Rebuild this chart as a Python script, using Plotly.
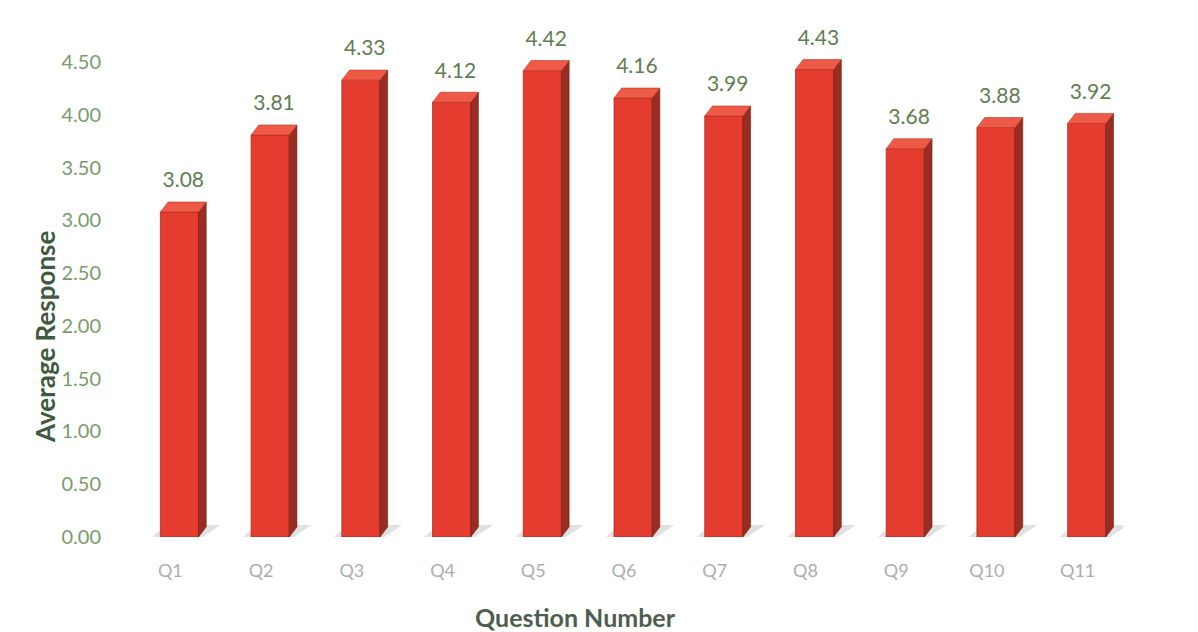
import plotly.graph_objects as go

categories = ["Q1", "Q2", "Q3", "Q4", "Q5", "Q6", "Q7", "Q8", "Q9", "Q10", "Q11"]
values = [3.08, 3.81, 4.33, 4.12, 4.42, 4.16, 3.99, 4.43, 3.68, 3.88, 3.92]
y_ticks = [0, 0.5, 1.0, 1.5, 2.0, 2.5, 3.0, 3.5, 4.0, 4.5]

# style constants (3D look)
SHIFT = 0.1      # front face centre offset from category tick
W = 0.42         # front face width
DX = 0.085       # depth offset in x (data units)
DY = 0.095       # depth offset in y (data units)
LABEL_GAP = 0.09

FIG_W, FIG_H = 1198, 632
L, R, T, B = 125, 75, 20, 95
PW, PH = FIG_W - L - R, FIG_H - T - B

xpos = [i + SHIFT for i in range(len(categories))]

fig = go.Figure()

# front faces
fig.add_trace(go.Bar(
    x=xpos, y=values, width=W,
    marker=dict(color="#e43d30", line=dict(width=0.8, color="#b02a1e")),
    showlegend=False, hoverinfo="y"))

# side and top faces
for x0, v in zip(xpos, values):
    xr = x0 + W / 2
    xl = x0 - W / 2
    fig.add_trace(go.Scatter(
        x=[xr, xr + DX, xr + DX, xr, xr],
        y=[0, DY, v + DY, v, 0],
        fill="toself", mode="lines", line=dict(width=0.6, color="#6e1c14"),
        fillcolor="#9a2c22", hoverinfo="skip", showlegend=False, cliponaxis=False))
    fig.add_trace(go.Scatter(
        x=[xl, xl + DX, xr + DX, xr, xl],
        y=[v, v + DY, v + DY, v, v],
        fill="toself", mode="lines", line=dict(width=0.6, color="#c0301f"),
        fillcolor="#ee5a48", hoverinfo="skip", showlegend=False, cliponaxis=False))

# floor shadows (below the bars)
shapes = []
for x0 in xpos:
    xl = x0 - W / 2
    xr = x0 + W / 2
    path = (f"M {xl - 0.09},0 L {xr + 0.05},0 L {xr + DX + 0.16},{DY * 1.2} "
            f"L {xl + DX - 0.02},{DY * 1.2} Z")
    shapes.append(dict(type="path", path=path, xref="x", yref="y", layer="below",
                       fillcolor="rgba(205,205,205,0.6)", line=dict(width=0)))

# data labels
fig.add_trace(go.Scatter(
    x=[x + DX / 2 for x in xpos], y=[v + DY + LABEL_GAP for v in values],
    mode="text", text=[f"{v:.2f}" for v in values],
    textposition="top center",
    textfont=dict(family="Lato", size=21, color="#5f7d4f"),
    hoverinfo="skip", showlegend=False, cliponaxis=False))

fig.update_layout(
    width=FIG_W, height=FIG_H,
    margin=dict(l=L, r=R, t=T, b=B),
    paper_bgcolor="white", plot_bgcolor="white",
    font=dict(family="Lato"),
    shapes=shapes,
    xaxis=dict(
        range=[-0.5, len(categories) - 0.5], automargin=False,
        tickmode="array", tickvals=list(range(len(categories))), ticktext=categories,
        showgrid=False, zeroline=False, showline=False,
        ticks="outside", ticklen=17, tickcolor="rgba(0,0,0,0)",
        tickfont=dict(family="Lato", size=18, color="#adadad"),
    ),
    yaxis=dict(
        range=[0, 4.9], automargin=False,
        tickmode="array", tickvals=y_ticks, ticktext=[f"{t:.2f}" for t in y_ticks],
        showgrid=False, zeroline=False, showline=False,
        ticks="outside", ticklen=19, tickcolor="rgba(0,0,0,0)",
        tickfont=dict(family="Lato", size=20, color="#7a9a6a"),
    ),
    annotations=[
        dict(text="<b>Question Number</b>", xref="paper", yref="paper",
             x=(575 - L) / PW, y=-(617 - (T + PH)) / PH, xanchor="center", yanchor="middle",
             showarrow=False, font=dict(family="Lato", size=25, color="#4e5e4e")),
        dict(text="<b>Average Response</b>", xref="paper", yref="paper",
             x=-(L - 45) / PW, y=((T + PH) - 337) / PH, xanchor="center", yanchor="middle",
             textangle=-90, showarrow=False,
             font=dict(family="Lato", size=26, color="#3f5a3f")),
    ],
)

fig.write_html("out.html",
               config={"displayModeBar": False},
               post_script="document.body.style.margin='0px';document.body.style.overflow='hidden';")
